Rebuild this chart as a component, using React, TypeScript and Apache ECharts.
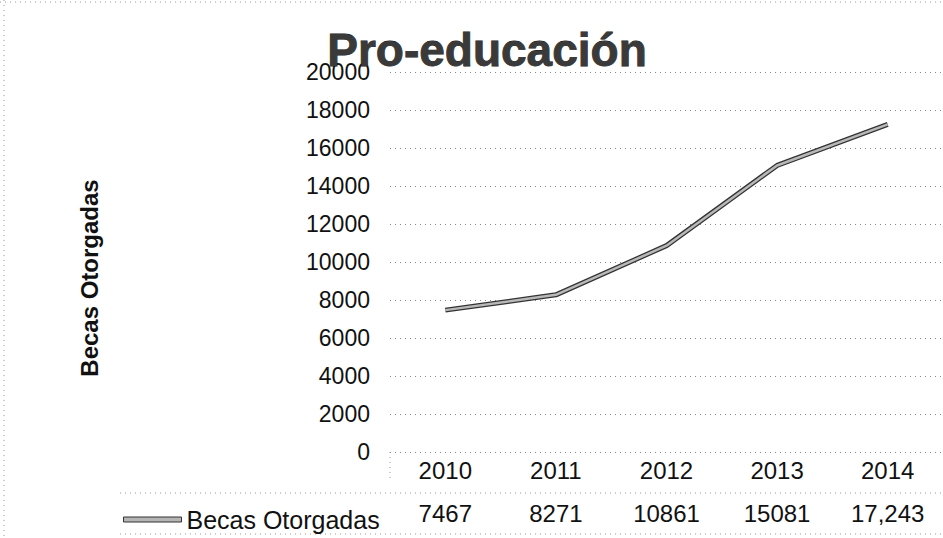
import React, { useEffect, useRef } from "react";
import * as echarts from "echarts";

const titleText = "Pro-educación";
const yAxisTitle = "Becas Otorgadas";
const seriesName = "Becas Otorgadas";
const years = ["2010", "2011", "2012", "2013", "2014"];
const becas = [7467, 8271, 10861, 15081, 17243];
const tableText = ["7467", "8271", "10861", "15081", "17,243"];
const yMin = 0;
const yMax = 20000;
const yStep = 2000;

const FONT = "'Liberation Sans', Arial, sans-serif";

export default function App() {
  const ref = useRef<HTMLDivElement>(null);
  useEffect(() => {
    if (!ref.current) return;
    const chart = echarts.init(ref.current, null, { renderer: "svg" });
    const dotted = { stroke: "#9a9a9a", lineWidth: 1, lineDash: [1, 4] };
    chart.setOption({
      animation: false,
      backgroundColor: "#ffffff",
      textStyle: { fontFamily: FONT },
      title: {
        text: titleText,
        left: 482,
        textAlign: "center",
        top: 22,
        textStyle: {
          fontSize: 46,
          fontWeight: "bold",
          color: "#3a3a3a",
          fontFamily: FONT,
          textBorderColor: "#111",
          textBorderWidth: 0.8,
        },
      },
      legend: {
        data: [seriesName],
        left: 118,
        top: 502,
        icon: "rect",
        itemWidth: 58,
        itemHeight: 5,
        itemStyle: { color: "#b5b5b5", borderColor: "#333", borderWidth: 1 },
        textStyle: { fontSize: 25, color: "#111", fontFamily: FONT },
      },
      grid: { left: 390, top: 72, width: 560, height: 380, containLabel: false },
      xAxis: [
        {
          type: "category",
          data: years,
          boundaryGap: true,
          axisLine: { show: false },
          axisTick: { show: false },
          axisLabel: { fontSize: 24, color: "#111", margin: 6, fontFamily: FONT },
        },
        {
          type: "category",
          data: tableText,
          position: "bottom",
          offset: 43,
          boundaryGap: true,
          axisLine: { show: false },
          axisTick: { show: false },
          splitLine: { show: false },
          axisLabel: { fontSize: 24, color: "#111", margin: 6, fontFamily: FONT },
        },
      ],
      yAxis: {
        type: "value",
        min: yMin,
        max: yMax,
        interval: yStep,
        axisLine: { show: false },
        axisTick: { show: false },
        axisLabel: {
          fontSize: 23,
          color: "#111",
          margin: 20,
          fontFamily: FONT,
          formatter: (v: number) => String(v),
        },
        splitLine: { lineStyle: { color: "#8a8a8a", type: [1, 4], width: 1 } },
      },
      series: [
        {
          name: seriesName,
          type: "line",
          xAxisIndex: 0,
          data: becas,
          symbol: "none",
          lineStyle: { color: "#333", width: 5 },
          itemStyle: { color: "#b5b5b5" },
          z: 2,
        },
        {
          name: seriesName,
          type: "line",
          xAxisIndex: 0,
          data: becas,
          symbol: "none",
          lineStyle: { color: "#b8b8b8", width: 2.5 },
          itemStyle: { color: "#b5b5b5" },
          z: 3,
        },
      ],
      graphic: [
        {
          type: "text",
          x: 89,
          y: 278,
          rotation: Math.PI / 2,
          style: {
            text: yAxisTitle,
            fontSize: 24,
            fontWeight: "bold",
            fontFamily: FONT,
            fill: "#111",
            align: "center",
            verticalAlign: "middle",
          },
        },
        { type: "line", shape: { x1: 0, y1: 2, x2: 943, y2: 2 }, style: dotted, silent: true },
        { type: "line", shape: { x1: 4, y1: 0, x2: 4, y2: 538 }, style: dotted, silent: true },
        { type: "line", shape: { x1: 120, y1: 493, x2: 943, y2: 493 }, style: dotted, silent: true },
        { type: "line", shape: { x1: 120, y1: 534, x2: 943, y2: 534 }, style: dotted, silent: true },
        { type: "line", shape: { x1: 390, y1: 452, x2: 390, y2: 482 }, style: dotted, silent: true },
      ],
    });
    return () => chart.dispose();
  }, []);
  return (
    <div
      ref={ref}
      style={{ position: "fixed", left: 0, top: 0, width: 943, height: 538 }}
    />
  );
}
